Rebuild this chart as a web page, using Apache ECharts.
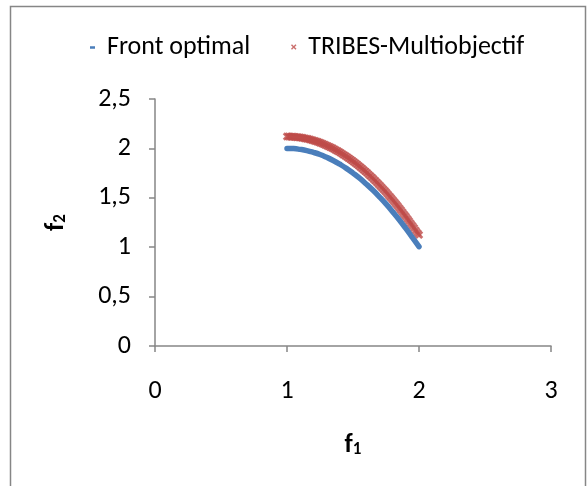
<!DOCTYPE html>
<html>
<head>
<meta charset="utf-8">
<script src="https://cdn.jsdelivr.net/npm/echarts@6/dist/echarts.min.js"></script>
<style>
html,body{margin:0;padding:0;background:#fff;}
#chart{width:587px;height:486px;}
</style>
</head>
<body>
<div id="chart"></div>
<script>
// Front optimal (f1, f2)
const frontF1 = [1.00,1.05,1.10,1.15,1.20,1.25,1.30,1.35,1.40,1.45,1.50,1.55,1.60,1.65,1.70,1.75,1.80,1.85,1.90,1.95,2.00];
const frontF2 = [2.000,1.998,1.990,1.978,1.960,1.938,1.910,1.878,1.840,1.798,1.750,1.698,1.640,1.578,1.510,1.438,1.360,1.278,1.190,1.098,1.005];

// TRIBES-Multiobjectif (f1, f2)
const tribesF1 = [1.0000,1.0125,1.0250,1.0375,1.0500,1.0625,1.0750,1.0875,1.1000,1.1125,
  1.1250,1.1375,1.1500,1.1625,1.1750,1.1875,1.2000,1.2125,1.2250,1.2375,
  1.2500,1.2625,1.2750,1.2875,1.3000,1.3125,1.3250,1.3375,1.3500,1.3625,
  1.3750,1.3875,1.4000,1.4125,1.4250,1.4375,1.4500,1.4625,1.4750,1.4875,
  1.5000,1.5125,1.5250,1.5375,1.5500,1.5625,1.5750,1.5875,1.6000,1.6125,
  1.6250,1.6375,1.6500,1.6625,1.6750,1.6875,1.7000,1.7125,1.7250,1.7375,
  1.7500,1.7625,1.7750,1.7875,1.8000,1.8125,1.8250,1.8375,1.8500,1.8625,
  1.8750,1.8875,1.9000,1.9125,1.9250,1.9375,1.9500,1.9625,1.9750,1.9875,2.0000];
const tribesF2 = [2.120,2.120,2.119,2.119,2.118,2.116,2.114,2.112,2.110,2.107,
  2.104,2.101,2.098,2.094,2.089,2.085,2.080,2.075,2.069,2.064,
  2.058,2.051,2.044,2.037,2.030,2.022,2.014,2.006,1.998,1.989,
  1.979,1.970,1.960,1.950,1.939,1.929,1.918,1.906,1.894,1.882,
  1.870,1.857,1.844,1.831,1.818,1.804,1.789,1.775,1.760,1.745,
  1.729,1.714,1.698,1.681,1.664,1.647,1.630,1.612,1.594,1.576,
  1.558,1.539,1.519,1.500,1.480,1.460,1.439,1.419,1.398,1.376,
  1.354,1.332,1.310,1.287,1.264,1.241,1.218,1.194,1.169,1.145,1.125];

const xTicks = [0, 1, 2, 3];
const yTicks = [0, 0.5, 1, 1.5, 2, 2.5];

const FONT = 'Carlito, Calibri, Lato, "Liberation Sans", sans-serif';
const FS = 26;
const BLUE = '#4A7EBB';
const RED = '#BE4B48';
const AXIS = '#868686';
const XMARK = 'path://M0,2.4L2.4,0L5,2.6L7.6,0L10,2.4L7.4,5L10,7.6L7.6,10L5,7.4L2.4,10L0,7.6L2.6,5Z';
// legend icons: a 19x10 box (tiny corner anchors) with a small centred mark
const LEG_BOX = 'M0,0L0.01,0L0,0.01Z M19,10L18.99,10L19,9.99Z ';
const LEG_DASH = 'path://' + LEG_BOX + 'M7,4.2H12V6.8H7Z';
const LEG_X = 'path://' + LEG_BOX + 'M6.75,3.24L7.74,2.25L9.5,4.01L11.26,2.25L12.25,3.24L10.49,5L12.25,6.76L11.26,7.75L9.5,5.99L7.74,7.75L6.75,6.76L8.51,5Z';

const nameRich = {
  f: {fontFamily: FONT, fontSize: FS, fontWeight: 'bold', color: '#000', verticalAlign: 'bottom', lineHeight: 30},
  s: {fontFamily: FONT, fontSize: 17, fontWeight: 'bold', color: '#000', verticalAlign: 'bottom', lineHeight: 22}
};
const fmt = v => String(v).replace('.', ',');

const chart = echarts.init(document.getElementById('chart'), null, {renderer: 'canvas'});
chart.setOption({
  animation: false,
  backgroundColor: '#fff',
  textStyle: {fontFamily: FONT},
  graphic: [{
    type: 'rect', silent: true,
    shape: {x: 10.5, y: 6.5, width: 575, height: 490},
    style: {fill: 'none', stroke: AXIS, lineWidth: 1.5}
  }],
  legend: {
    left: 78, top: 29,
    itemWidth: 19, itemHeight: 10, itemGap: 34,
    symbolKeepAspect: true,
    textStyle: {fontFamily: FONT, fontSize: FS, color: '#000'},
    data: [
      {name: 'Front optimal', icon: LEG_DASH, itemStyle: {color: BLUE}},
      {name: 'TRIBES-Multiobjectif', icon: LEG_X, itemStyle: {color: RED}}
    ]
  },
  grid: {left: 155, right: 36, top: 99, bottom: 140, containLabel: false},
  xAxis: {
    type: 'value', min: xTicks[0], max: xTicks[xTicks.length - 1], interval: 1,
    name: '{f|f}{s|1}', nameLocation: 'middle', nameGap: 82,
    nameTextStyle: {rich: nameRich},
    axisLine: {onZero: false, lineStyle: {color: AXIS, width: 1.5}},
    axisTick: {show: true, inside: false, length: 6, lineStyle: {color: AXIS, width: 1.5}},
    axisLabel: {margin: 32, fontFamily: FONT, fontSize: FS, color: '#000', formatter: fmt},
    splitLine: {show: false}
  },
  yAxis: {
    type: 'value', min: yTicks[0], max: yTicks[yTicks.length - 1], interval: 0.5,
    name: '{f|f}{s|2}', nameLocation: 'middle', nameGap: 86, nameRotate: 90,
    nameTextStyle: {rich: nameRich},
    axisLine: {onZero: false, lineStyle: {color: AXIS, width: 1.5}},
    axisTick: {show: true, inside: false, length: 6, lineStyle: {color: AXIS, width: 1.5}},
    axisLabel: {margin: 24, fontFamily: FONT, fontSize: FS, color: '#000', formatter: fmt},
    splitLine: {show: false}
  },
  series: [
    {
      name: 'Front optimal', type: 'line', smooth: true, symbol: 'none',
      data: frontF1.map((x, i) => [x, frontF2[i]]),
      lineStyle: {color: BLUE, width: 5.5, cap: 'round'},
      itemStyle: {color: BLUE}
    },
    {
      name: 'TRIBES-Multiobjectif', type: 'scatter', symbol: XMARK, symbolSize: 8.5,
      data: tribesF1.map((x, i) => [x, tribesF2[i]]),
      itemStyle: {color: RED}
    }
  ]
});
</script>
</body>
</html>
